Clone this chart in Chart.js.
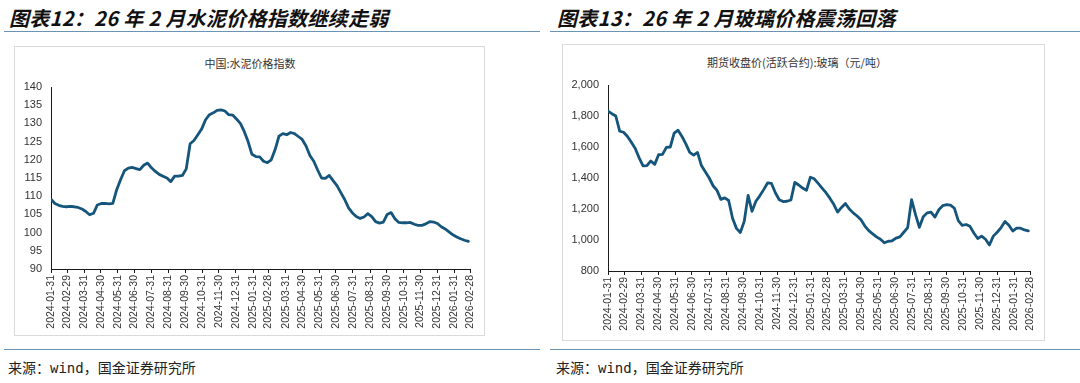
<!DOCTYPE html>
<html>
<head>
<meta charset="utf-8">
<script src="https://cdn.jsdelivr.net/npm/chart.js@4.4.1/dist/chart.umd.min.js"></script>
<style>
  html, body { margin: 0; padding: 0; background: #fff; }
  body { width: 1080px; height: 383px; position: relative; overflow: hidden; font-family: "Noto Sans CJK SC", sans-serif; }
  .title { position: absolute; top: 3px; font-size: 20px; font-weight: bold; font-style: italic; color: #111; white-space: nowrap; letter-spacing: 0.3px; }
  .rule { position: absolute; height: 0; border-top: 1.5px solid #6b93b3; }
  .box { position: absolute; border: 1px solid #dadada; box-sizing: border-box; }
  .sub { position: absolute; font-size: 11px; color: #333; white-space: nowrap; transform: translateX(-50%); }
  .src { position: absolute; top: 357px; font-size: 14px; color: #222; white-space: nowrap; font-family: "DejaVu Sans Mono", "Noto Sans CJK SC", monospace; }
  canvas { position: absolute; }
</style>
</head>
<body>
<div class="title" style="left:9px;">图表12：26 年 2 月水泥价格指数继续走弱</div>
<div class="title" style="left:557px;">图表13：26 年 2 月玻璃价格震荡回落</div>
<div class="rule" style="left:4px; width:536px; top:31px;"></div>
<div class="rule" style="left:550px; width:530px; top:31px;"></div>
<div class="rule" style="left:4px; width:536px; top:349px;"></div>
<div class="rule" style="left:550px; width:530px; top:349px;"></div>
<div class="box" style="left:14px; top:46px; width:471px; height:290px;"></div>
<div class="box" style="left:562px; top:44px; width:483px; height:297px;"></div>
<div class="sub" style="left:250px; top:55px;">中国:水泥价格指数</div>
<div class="sub" style="left:797px; top:54px;">期货收盘价(活跃合约):玻璃（元/吨）</div>
<div class="src" style="left:8px;">来源：wind，国金证券研究所</div>
<div class="src" style="left:556px;">来源：wind，国金证券研究所</div>
<canvas id="c1" width="471" height="290" style="left:14px; top:46px;"></canvas>
<canvas id="c2" width="483" height="297" style="left:562px; top:44px;"></canvas>
<script>
// ---------- data ----------
const startDate = '2024-01-31';          // first weekly observation
const stepDays = 7;                      // weekly observations

const tickLabels = [
  '2024-01-31','2024-02-29','2024-03-31','2024-04-30','2024-05-31','2024-06-30',
  '2024-07-31','2024-08-31','2024-09-30','2024-10-31','2024-11-30','2024-12-31',
  '2025-01-31','2025-02-28','2025-03-31','2025-04-30','2025-05-31','2025-06-30',
  '2025-07-31','2025-08-31','2025-09-30','2025-10-31','2025-11-30','2025-12-31',
  '2026-01-31','2026-02-28'
];

const cementIndex = [
  109.2,108.0,107.5,107.2,107.1,107.2,107.1,106.9,106.5,105.8,
  104.9,105.3,107.6,108.0,108.0,107.9,108.0,111.8,114.5,117.0,
  117.7,117.9,117.6,117.3,118.5,119.1,117.8,116.8,116.0,115.5,
  115.0,114.0,115.5,115.5,115.7,117.5,124.4,125.3,126.9,128.5,
  131.0,132.4,132.9,133.6,133.7,133.4,132.4,132.3,131.2,130.0,
  127.8,125.0,121.5,120.9,120.8,119.6,119.2,120.0,122.8,126.5,
  127.2,126.9,127.5,127.2,126.4,125.6,123.8,121.2,119.6,117.2,
  115.0,114.9,115.7,114.3,112.9,111.0,109.1,106.8,105.4,104.4,
  103.9,104.3,105.2,104.4,103.0,102.6,102.9,105.0,105.5,103.8,
  102.8,102.7,102.7,102.8,102.3,102.0,102.0,102.4,103.0,102.9,
  102.5,101.6,101.0,100.2,99.4,98.8,98.3,97.9,97.6
];

const glassPrice = [
  1832,1815,1800,1702,1695,1668,1630,1590,1530,1478,
  1480,1510,1488,1550,1552,1598,1600,1690,1708,1668,
  1620,1565,1548,1565,1480,1440,1400,1350,1320,1262,
  1272,1255,1140,1075,1048,1120,1288,1185,1250,1285,
  1325,1368,1365,1305,1260,1248,1250,1258,1372,1355,
  1335,1320,1405,1395,1365,1335,1305,1270,1230,1180,
  1210,1235,1200,1175,1155,1130,1090,1060,1040,1020,
  1005,982,992,995,1012,1020,1050,1080,1260,1165,
  1082,1150,1175,1180,1148,1195,1222,1228,1225,1205,
  1125,1095,1100,1088,1045,1010,1025,1005,968,1025,
  1050,1080,1120,1095,1058,1076,1076,1065,1059
];

const cementAxis = { min: 90, max: 140, step: 5 };
const glassAxis  = { min: 800, max: 2000, step: 200 };

// ---------- helpers ----------
function dayOffset(s) {
  const [y, m, d] = s.split('-').map(Number);
  const [y0, m0, d0] = startDate.split('-').map(Number);
  return (Date.UTC(y, m - 1, d) - Date.UTC(y0, m0 - 1, d0)) / 86400000;
}
const tickDays = tickLabels.map(dayOffset);
const toPoints = arr => arr.map((v, i) => ({ x: i * stepDays, y: v }));

const LINE = '#15557b';
const TXT = '#333';
const AXIS = '#1a1a1a';

function makeChart(id, values, yCfg, yWidth, xHeight, fmt) {
  return new Chart(document.getElementById(id), {
    type: 'line',
    data: { datasets: [{ data: toPoints(values), borderColor: LINE, borderWidth: 2.8, pointRadius: 0, tension: 0, fill: false, borderJoinStyle: 'round', borderCapStyle: 'round' }] },
    options: {
      responsive: false, animation: false,
      layout: { padding: { top: 41, right: 15, left: 0, bottom: 0 } },
      plugins: { legend: { display: false }, tooltip: { enabled: false } },
      scales: {
        x: {
          type: 'linear', min: 0, max: tickDays[tickDays.length - 1],
          afterBuildTicks: s => { s.ticks = tickDays.map(v => ({ value: v })); },
          afterFit: s => { s.height = xHeight; },
          ticks: {
            autoSkip: false, minRotation: 90, maxRotation: 90, padding: 2,
            color: TXT, font: { family: 'Liberation Sans, Arial, sans-serif', size: 10.5 },
            callback: (v) => { const k = tickDays.indexOf(v); return k >= 0 ? tickLabels[k] : ''; }
          },
          grid: { display: true, drawOnChartArea: false, drawTicks: true, tickLength: 4, color: AXIS, lineWidth: 1 },
          border: { display: true, color: AXIS, width: 1 }
        },
        y: {
          min: yCfg.min, max: yCfg.max,
          afterFit: s => { s.width = yWidth; },
          ticks: {
            stepSize: yCfg.step, padding: 9, color: TXT,
            font: { family: 'Liberation Sans, Arial, sans-serif', size: 11 },
            callback: fmt
          },
          grid: { display: false, drawTicks: false },
          border: { display: true, color: AXIS, width: 1 }
        }
      }
    }
  });
}

makeChart('c1', cementIndex, cementAxis, 37, 67, v => String(v));
makeChart('c2', glassPrice, glassAxis, 46, 70, v => Number(v).toLocaleString('en-US'));
</script>
</body>
</html>
